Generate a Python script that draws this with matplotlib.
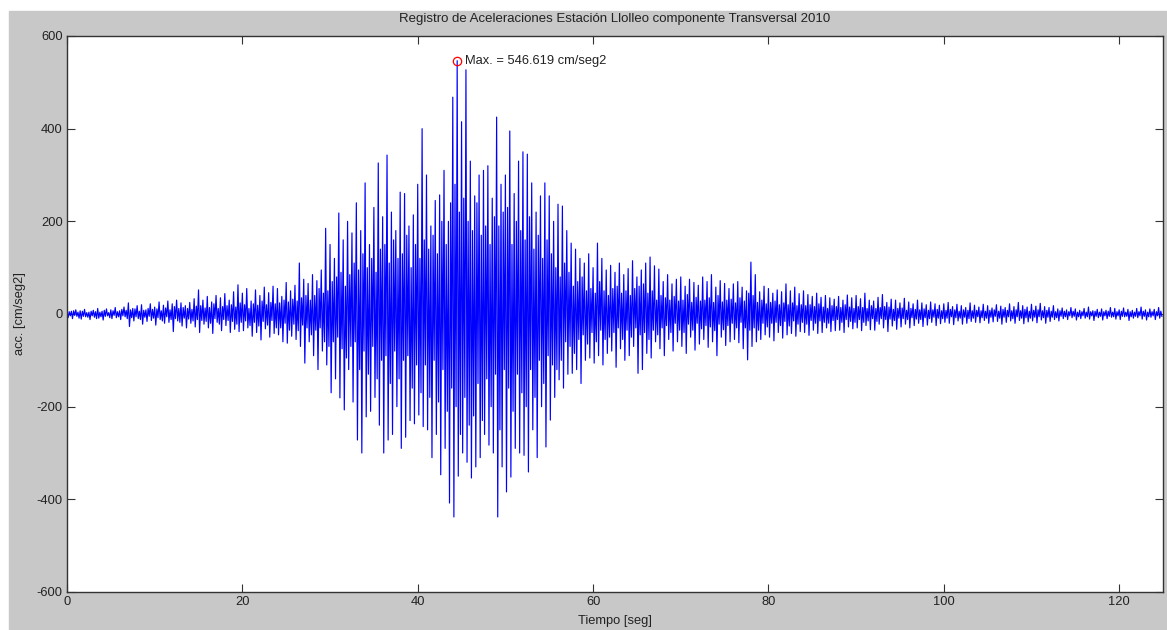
import numpy as np
import matplotlib.pyplot as plt
from matplotlib.patches import Rectangle

plt.rcParams['font.family'] = ['Liberation Sans', 'DejaVu Sans']
plt.rcParams['axes.unicode_minus'] = False

# Sampling step of the digitised record [seg]
dt = 0.125

# Acceleration values, 2 s per row [cm/seg2]
acc = [
    2, -8, 5, -4, 6, -10, 7, -3, 9, -5, 4, -9, 7, -11, 6, -5,
    10, -6, 3, -7, 4, -12, 6, -4, 8, -7, 5, -10, 12, -9, 4, -6,
    6, -13, 8, -5, 11, -4, 3, -8, 9, -10, 7, -3, 14, -8, 5, -6,
    7, -12, 10, -4, 15, -6, 8, -10, 24, -27, 9, -8, 12, -15, 11, -6,
    18, -10, 6, -12, 20, -22, 8, -7, 9, -16, 12, -5, 22, -14, 10, -9,
    15, -24, 11, -8, 26, -12, 7, -15, 19, -20, 13, -6, 28, -18, 9, -12,
    22, -38, 16, -10, 30, -15, 12, -18, 24, -26, 14, -9, 18, -30, 12, -11,
    25, -20, 10, -15, 33, -28, 17, -12, 52, -40, 18, -14, 30, -22, 13, -16,
    38, -30, 14, -20, 26, -42, 22, -10, 40, -18, 12, -22, 35, -36, 16, -12,
    44, -25, 18, -14, 30, -40, 20, -16, 48, -33, 15, -22, 63, -38, 24, -18,
    45, -36, 20, -15, 55, -30, 12, -25, 28, -48, 22, -18, 52, -40, 19, -26,
    40, -56, 28, -16, 58, -32, 20, -24, 46, -50, 25, -14, 60, -42, 22, -30,
    55, -45, 24, -30, 38, -60, 30, -20, 68, -63, 26, -35, 50, -48, 32, -22,
    62, -55, 28, -36, 110, -70, 35, -24, 75, -106, 40, -30, 66, -60, 30, -45,
    85, -90, 40, -35, 72, -120, 55, -30, 95, -80, 45, -60, 185, -110, 50, -70,
    150, -170, 70, -60, 120, -140, 80, -50, 218, -181, 90, -75, 160, -207, 60, -95,
    200, -120, 85, -70, 175, -190, 110, -60, 240, -272, 95, -120, 180, -300, 130, -80,
    283, -222, 100, -130, 150, -210, 120, -70, 230, -180, 90, -140, 326, -240, 140, -100,
    210, -300, 150, -90, 343, -272, 110, -150, 220, -260, 160, -80, 180, -200, 120, -140,
    263, -290, 130, -100, 260, -266, 170, -90, 190, -230, 100, -160, 214, -237, 150, -110,
    280, -218, 120, -170, 400, -243, 160, -110, 300, -250, 140, -180, 190, -310, 170, -100,
    245, -260, 130, -190, 257, -347, 200, -120, 310, -290, 150, -210, 200, -408, 240, -160,
    468, -438, 280, -200, 546.619, -350, 220, -260, 415, -300, 250, -180, 527, -320, 200, -240,
    330, -354, 180, -220, 255, -330, 240, -150, 300, -310, 170, -230, 310, -260, 190, -140,
    320, -283, 150, -200, 250, -300, 210, -130, 425, -438, 190, -250, 280, -330, 220, -120,
    300, -384, 230, -160, 395, -352, 150, -210, 260, -290, 200, -130, 330, -300, 180, -170,
    350, -305, 160, -200, 345, -341, 210, -120, 283, -250, 140, -180, 220, -310, 170, -100,
    255, -200, 120, -150, 283, -287, 160, -90, 255, -229, 130, -110, 200, -180, 100, -120,
    237, -142, 80, -100, 233, -160, 110, -60, 180, -130, 90, -70, 153, -128, 60, -85,
    140, -120, 70, -55, 120, -150, 80, -45, 110, -100, 50, -65, 130, -95, 55, -40,
    100, -106, 45, -60, 153, -90, 70, -35, 120, -110, 50, -55, 95, -85, 40, -50,
    105, -80, 55, -40, 90, -115, 60, -30, 110, -75, 45, -55, 85, -100, 50, -35,
    98, -90, 40, -50, 115, -70, 55, -30, 80, -128, 60, -45, 95, -120, 65, -40,
    110, -85, 45, -55, 123, -95, 50, -35, 104, -60, 30, -45, 97, -75, 40, -30,
    70, -90, 35, -25, 85, -55, 30, -40, 65, -80, 38, -20, 75, -60, 28, -35,
    80, -70, 30, -40, 60, -85, 42, -22, 75, -50, 25, -35, 68, -78, 36, -20,
    62, -65, 28, -32, 80, -55, 30, -25, 70, -72, 35, -28, 85, -60, 25, -36,
    58, -90, 40, -22, 72, -50, 26, -34, 66, -68, 30, -25, 55, -60, 32, -20,
    65, -55, 24, -30, 70, -62, 35, -18, 58, -75, 28, -30, 50, -99, 45, -35,
    112, -70, 40, -30, 85, -60, 25, -35, 48, -55, 30, -20, 60, -45, 22, -28,
    55, -50, 25, -20, 45, -58, 28, -18, 52, -40, 20, -25, 48, -52, 24, -16,
    65, -45, 20, -26, 50, -42, 24, -15, 58, -48, 18, -22, 44, -38, 20, -18,
    50, -40, 18, -22, 42, -46, 20, -14, 38, -35, 16, -20, 45, -42, 22, -15,
    36, -40, 15, -18, 40, -30, 12, -20, 35, -38, 18, -14, 32, -36, 16, -12,
    38, -35, 14, -18, 30, -40, 20, -12, 41, -28, 15, -16, 35, -32, 12, -18,
    40, -30, 16, -12, 33, -36, 14, -18, 45, -25, 12, -15, 30, -34, 18, -10,
    28, -35, 12, -16, 36, -22, 14, -10, 42, -30, 16, -12, 25, -38, 15, -11,
    32, -26, 10, -14, 30, -33, 12, -9, 24, -28, 13, -10, 34, -22, 8, -12,
    26, -30, 12, -8, 22, -25, 10, -11, 30, -20, 9, -12, 24, -27, 11, -8,
    20, -24, 8, -10, 26, -18, 9, -7, 22, -25, 10, -9, 19, -21, 7, -10,
    22, -18, 8, -9, 25, -20, 10, -6, 16, -23, 9, -8, 21, -15, 6, -9,
    18, -22, 9, -7, 14, -20, 8, -10, 24, -16, 7, -9, 19, -18, 8, -6,
    15, -19, 7, -8, 21, -14, 6, -9, 18, -20, 8, -7, 13, -17, 9, -5,
    20, -16, 6, -9, 17, -22, 10, -7, 14, -18, 8, -6, 22, -15, 7, -10,
    16, -20, 9, -6, 25, -14, 7, -9, 18, -21, 10, -8, 15, -17, 6, -9,
    21, -15, 8, -7, 17, -19, 9, -6, 23, -13, 7, -8, 16, -20, 8, -7,
    14, -16, 6, -7, 18, -12, 5, -8, 11, -15, 7, -5, 13, -10, 6, -6,
    9, -12, 5, -4, 14, -8, 6, -5, 11, -13, 4, -6, 8, -10, 5, -4,
    12, -9, 4, -6, 15, -11, 5, -4, 7, -14, 6, -5, 10, -8, 4, -5,
    11, -13, 5, -4, 8, -10, 6, -5, 14, -7, 4, -6, 12, -11, 5, -4,
    9, -12, 6, -5, 13, -6, 4, -5, 10, -14, 5, -6, 8, -9, 4, -5,
    12, -8, 5, -4, 15, -11, 6, -5, 9, -13, 4, -6, 11, -7, 5, -4,
    10, -12, 5, -4, 14, -9, 6, -5,
]

xticks = [0, 20, 40, 60, 80, 100, 120]
yticks = [-600, -400, -200, 0, 200, 400, 600]

acc = np.array(acc, dtype=float)
t = np.arange(len(acc)) * dt
imax = np.argmax(acc)

fig = plt.figure(figsize=(11.67, 6.3), dpi=100, facecolor='white')
# grey window background, white strip on left/top like the screenshot
bg = Rectangle((9 / 1167, 0), 1, (630 - 11) / 630,
               transform=fig.transFigure, color='#c8c8c8', zorder=-10)
fig.patches.append(bg)

ax = fig.add_axes([67 / 1167, 38 / 630, 1096 / 1167, 556 / 630])
ax.plot(t, acc, color='blue', lw=0.85)
ax.plot(t[imax], acc[imax], 'o', mfc='none', mec='red', ms=6, mew=0.9)
ax.text(t[imax] + 0.9, acc[imax], 'Max. = %.3f cm/seg2' % acc[imax],
        fontsize=9.3, va='center', ha='left', color='#222222')

ax.set_xlim(0, 125)
ax.set_ylim(-600, 600)
ax.set_xticks(xticks)
ax.set_yticks(yticks)
ax.tick_params(direction='in', length=6, top=True, right=True, labelsize=9.3,
               colors='#333333', labelcolor='#222222', pad=3)
for s in ax.spines.values():
    s.set_color('#333333')
    s.set_linewidth(1.0)

ax.set_title('Registro de Aceleraciones Estación Llolleo componente Transversal 2010',
             fontsize=9.5, pad=10, color='#222222')
ax.set_xlabel('Tiempo [seg]', fontsize=9.3, labelpad=5, color='#222222')
ax.set_ylabel('acc. [cm/seg2]', fontsize=9.3, labelpad=8, color='#222222')

fig.savefig('out.png', dpi=100, facecolor=fig.get_facecolor())
